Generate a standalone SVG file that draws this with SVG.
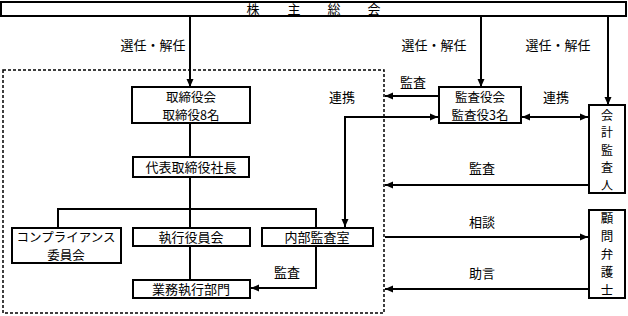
<svg xmlns="http://www.w3.org/2000/svg" width="628" height="316" viewBox="0 0 628 316">
<defs>
<marker id="ah" viewBox="0 0 8 8" refX="8" refY="4" markerWidth="8" markerHeight="8" markerUnits="userSpaceOnUse" orient="auto-start-reverse">
<path d="M0,0.5 L8,4 L0,7.5 Z" fill="#000"/>
</marker>
<style>
.box{fill:#fff;stroke:#000;stroke-width:2}
.t{font-family:"Noto Sans CJK JP","Noto Sans CJK SC",sans-serif;font-size:13px;fill:#000;text-anchor:middle}
.t2{font-size:12.5px}
.tv{font-size:12px}
.ln{fill:none;stroke:#000;stroke-width:2}
.ar{fill:none;stroke:#000;stroke-width:2;marker-end:url(#ah)}
.ar2{fill:none;stroke:#000;stroke-width:2;marker-end:url(#ah);marker-start:url(#ah)}
.dash{fill:none;stroke:#000;stroke-width:1.5;stroke-dasharray:3 2}
</style>
</defs>
<rect class="dash" x="3" y="70" width="381" height="243"/>
<g id="connectors">
<path class="ar" d="M190 16 V87"/>
<path class="ar" d="M481 16 V87"/>
<path class="ar" d="M608 16 V105"/>
<path class="ln" d="M190 123 V157"/>
<path class="ln" d="M190 177 V209 M58 228 V209 H316 V228 M190 209 V228"/>
<path class="ln" d="M190 246 V280"/>
<path class="ar" d="M316 246 V288 H251"/>
<path class="ar" d="M439 96 H385"/>
<path class="ar2" d="M345 227 V117 H438"/>
<path class="ar2" d="M522 117 H588"/>
<path class="ar" d="M589 185 H385"/>
<path class="ar" d="M385 237 H588"/>
<path class="ar" d="M589 289 H385"/>
<text class="t" x="153" y="50">選任・解任</text>
<text class="t" x="434" y="50">選任・解任</text>
<text class="t" x="558" y="50">選任・解任</text>
<text class="t" x="413" y="87">監査</text>
<text class="t" x="342" y="102">連携</text>
<text class="t" x="556" y="102">連携</text>
<text class="t" x="482" y="173">監査</text>
<text class="t" x="482" y="227">相談</text>
<text class="t" x="482" y="278">助言</text>
<text class="t" x="287" y="277">監査</text>
</g>
<g id="shareholders">
<rect class="box" x="1" y="2" width="625" height="14"/>
<text class="t" y="14"><tspan x="253">株</tspan><tspan x="294">主</tspan><tspan x="334">総</tspan><tspan x="374">会</tspan></text>
</g>
<g id="board">
<rect class="box" x="132" y="87" width="118" height="36"/>
<text class="t t2" x="191" y="102">取締役会</text>
<text class="t t2" x="191" y="120">取締役8名</text>
</g>
<g id="president">
<rect class="box" x="133" y="157" width="116" height="20"/>
<text class="t" x="191" y="172">代表取締役社長</text>
</g>
<g id="compliance">
<rect class="box" x="12" y="228" width="109" height="35"/>
<text class="t t2" x="66" y="242">コンプライアンス</text>
<text class="t t2" x="66" y="260">委員会</text>
</g>
<g id="exec-committee">
<rect class="box" x="133" y="228" width="117" height="18"/>
<text class="t" x="191" y="242">執行役員会</text>
</g>
<g id="internal-audit">
<rect class="box" x="262" y="228" width="111" height="18"/>
<text class="t" x="317" y="242">内部監査室</text>
</g>
<g id="operations">
<rect class="box" x="133" y="280" width="117" height="18"/>
<text class="t" x="191" y="294">業務執行部門</text>
</g>
<g id="auditors">
<rect class="box" x="439" y="87" width="82" height="36"/>
<text class="t t2" x="480" y="102">監査役会</text>
<text class="t t2" x="480" y="120">監査役3名</text>
</g>
<g id="accounting-auditor">
<rect class="box" x="589" y="105" width="36" height="88"/>
<text class="t tv" x="607"><tspan x="607" y="119.5">会</tspan><tspan x="607" y="137">計</tspan><tspan x="607" y="154.5">監</tspan><tspan x="607" y="172">査</tspan><tspan x="607" y="189.5">人</tspan></text>
</g>
<g id="lawyer">
<rect class="box" x="589" y="210" width="36" height="88"/>
<text class="t t2" x="607"><tspan x="607" y="222.5">顧</tspan><tspan x="607" y="240.5">問</tspan><tspan x="607" y="258.5">弁</tspan><tspan x="607" y="276.5">護</tspan><tspan x="607" y="294.5">士</tspan></text>
</g>
</svg>
